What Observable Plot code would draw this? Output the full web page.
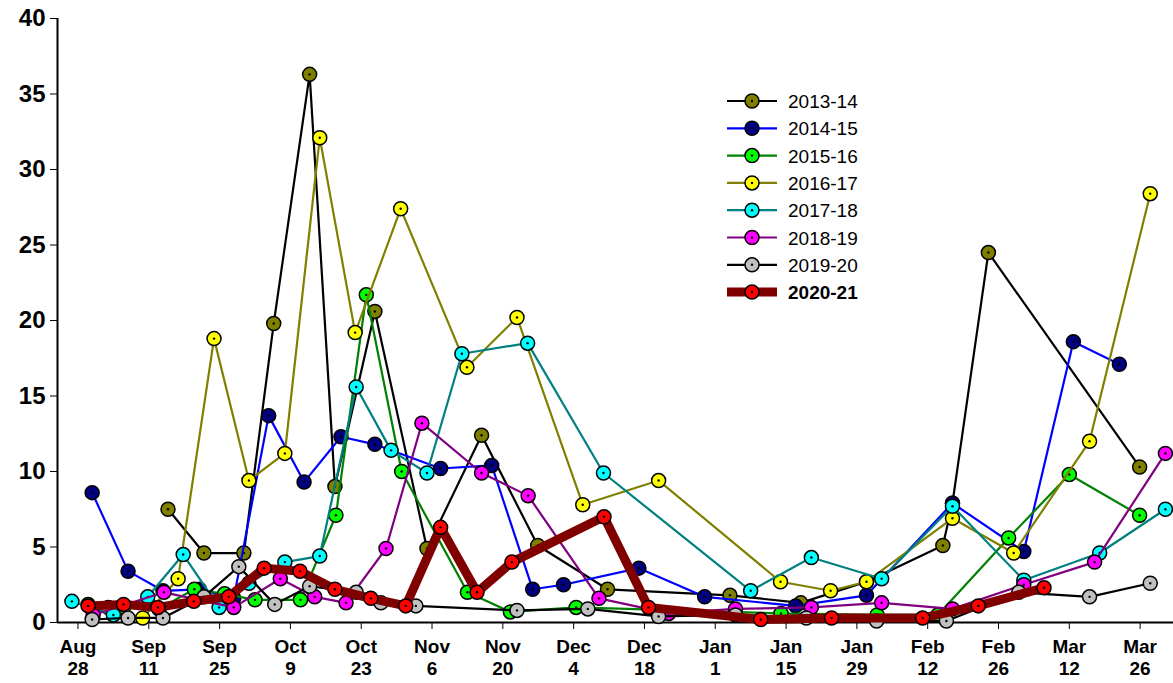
<!DOCTYPE html>
<html>
<head>
<meta charset="utf-8">
<script src="https://cdn.jsdelivr.net/npm/d3@7"></script>
<script src="https://cdn.jsdelivr.net/npm/@observablehq/plot@0.6"></script>
<style>
  body { margin: 0; background: #fff; font-family: Arial, "Liberation Sans", sans-serif; }
  #chart { position: relative; width: 1173px; height: 683px; }
  #legend { position: absolute; left: 727px; top: 88px; }
</style>
</head>
<body>
<div id="chart"><svg id="legend" width="200" height="220"></svg></div>
<script>
// x = days after Aug 28, y = value
const seasons = ["2013-14", "2014-15", "2015-16", "2016-17", "2017-18", "2018-19", "2019-20", "2020-21"];
const fills = ["#808000", "#000080", "#00ff00", "#ffff00", "#00ffff", "#ff00ff", "#c0c0c0", "#ff0000"];
const lines = ["#000000", "#0000ff", "#008000", "#808000", "#008080", "#800080", "#000000", "#800000"];

const days13 = [17.8, 24.9, 32.8, 38.7, 45.8, 50.8, 58.7, 69, 79.8, 90.9, 104.7, 128.9, 142.9, 155.9, 171, 172.9, 180, 209.9];
const vals13 = [7.5, 4.6, 4.6, 19.8, 36.3, 9.0, 20.6, 4.9, 12.4, 5.1, 2.2, 1.8, 1.3, 2.7, 5.1, 7.9, 24.5, 10.3];
const days14 = [2.8, 9.9, 16.8, 24, 30.8, 37.7, 44.7, 52, 58.7, 71.7, 81.8, 89.9, 96, 110.9, 123.9, 141.9, 155.9, 172.9, 187, 196.8, 205.9];
const vals14 = [8.6, 3.4, 2.1, 2.2, 1.6, 13.7, 9.3, 12.3, 11.8, 10.2, 10.4, 2.2, 2.5, 3.6, 1.7, 1.1, 1.8, 7.9, 4.7, 18.6, 17.1];
const days15 = [2, 9, 16, 23, 29, 35, 44, 51, 57, 64, 77, 85.5, 98.5, 139, 158, 170, 184, 196, 209.9];
const vals15 = [1.2, 1.0, 0.9, 2.2, 1.9, 1.5, 1.5, 7.1, 21.7, 10.0, 2.0, 0.7, 1.0, 0.6, 0.5, 0.5, 5.6, 9.8, 7.1];
const days16 = [6, 12.8, 19.8, 26.9, 33.8, 40.9, 47.8, 54.8, 63.8, 76.9, 86.8, 99.8, 114.8, 138.9, 148.8, 155.9, 172.9, 185, 200, 212];
const vals16 = [1.0, 0.3, 2.9, 18.8, 9.4, 11.2, 32.1, 19.2, 27.4, 16.9, 20.2, 7.8, 9.4, 2.7, 2.1, 2.7, 6.9, 4.6, 12.0, 28.4];
const days17 = [-1.2, 7, 13.8, 20.8, 27.9, 33.8, 40.9, 47.8, 55, 61.9, 69, 75.9, 88.9, 103.9, 133, 145, 158.9, 172.9, 187, 202, 215];
const vals17 = [1.4, 0.5, 1.7, 4.5, 1.0, 2.6, 4.0, 4.4, 15.6, 11.4, 9.9, 17.8, 18.5, 9.9, 2.1, 4.3, 2.9, 7.7, 2.8, 4.6, 7.5];
const days18 = [3, 17, 30.8, 40, 46.8, 53, 60.9, 68, 79.8, 89, 103, 116.8, 130, 145, 158.9, 172.9, 187, 201, 215];
const vals18 = [0.5, 2.0, 1.0, 2.9, 1.7, 1.3, 4.9, 13.2, 9.9, 8.4, 1.6, 0.6, 0.9, 1.0, 1.3, 0.9, 2.5, 4.0, 11.2];
const days19 = [2.8, 9.9, 16.8, 24.9, 31.8, 38.9, 45.8, 55, 59.9, 66.8, 86.8, 100.8, 114.8, 130, 144, 157.9, 171.7, 186, 200, 212];
const vals19 = [0.2, 0.3, 0.3, 1.7, 3.7, 1.2, 2.4, 2.0, 1.3, 1.1, 0.8, 0.9, 0.4, 0.5, 0.3, 0.1, 0.1, 2.0, 1.7, 2.6];
const days20 = [2, 9, 15.8, 22.9, 29.8, 36.8, 43.9, 50.8, 57.9, 64.8, 71.7, 78.9, 85.8, 104, 112.8, 135, 149, 167, 178, 191];
const vals20 = [1.1, 1.2, 1.0, 1.4, 1.7, 3.6, 3.4, 2.2, 1.6, 1.1, 6.3, 2.0, 4.0, 7.0, 1.0, 0.2, 0.3, 0.3, 1.1, 2.3];

const tickDays = [0, 14, 28, 42, 56, 70, 84, 98, 112, 126, 140, 154, 168, 182, 196, 210];
const tickLabels = ["Aug\n28", "Sep\n11", "Sep\n25", "Oct\n9", "Oct\n23", "Nov\n6", "Nov\n20", "Dec\n4", "Dec\n18", "Jan\n1", "Jan\n15", "Jan\n29", "Feb\n12", "Feb\n26", "Mar\n12", "Mar\n26"];

const allDays = [days13, days14, days15, days16, days17, days18, days19, days20];
const allVals = [vals13, vals14, vals15, vals16, vals17, vals18, vals19, vals20];

const marks = [];
seasons.forEach((s, i) => {
  const data = allDays[i].map((d, j) => ({ day: d, value: allVals[i][j] }));
  const last = i === seasons.length - 1;
  marks.push(Plot.line(data, { x: "day", y: "value", stroke: lines[i], strokeWidth: last ? 9 : 2.2, strokeLinejoin: "miter" }));
  marks.push(Plot.dot(data, { x: "day", y: "value", r: 7, fill: fills[i], stroke: "#000", strokeWidth: 1.5 }));
  marks.push(Plot.dot(data, { x: "day", y: "value", r: 1.2, fill: "#000" }));
});

const chart = Plot.plot({
  width: 1173,
  height: 683,
  marginLeft: 57,
  marginTop: 18,
  marginBottom: 61,
  marginRight: 0,
  style: { fontFamily: "Arial, 'Liberation Sans', sans-serif", background: "#fff" },
  x: { domain: [-4.05, 216.6] },
  y: { domain: [0, 40] },
  marks: [
    Plot.axisY({ ticks: d3.range(0, 41, 5), tickSize: 7, tickPadding: 5, fontSize: 24, fontWeight: "bold", label: null }),
    Plot.axisX({ ticks: tickDays, tickFormat: (d, i) => tickLabels[i], tickSize: 7, tickPadding: 8, fontSize: 19, fontWeight: "bold", label: null, lineHeight: 1.15 }),
    Plot.ruleX([-4.05], { stroke: "#000", strokeWidth: 2 }),
    Plot.ruleY([0], { stroke: "#000", strokeWidth: 2 }),
    ...marks
  ]
});
document.getElementById("chart").prepend(chart);
d3.select(chart).style("position", "absolute").style("left", "0").style("top", "0");

// legend
const lg = d3.select("#legend");
seasons.forEach((s, i) => {
  const y = 13 + i * 27.3;
  const last = i === seasons.length - 1;
  lg.append("line").attr("x1", 0).attr("x2", 50).attr("y1", y).attr("y2", y)
    .attr("stroke", lines[i]).attr("stroke-width", last ? 9 : 2.2);
  lg.append("circle").attr("cx", 25).attr("cy", y).attr("r", 7)
    .attr("fill", fills[i]).attr("stroke", "#000").attr("stroke-width", 1.5);
  lg.append("circle").attr("cx", 25).attr("cy", y).attr("r", 1.2).attr("fill", "#000");
  lg.append("text").attr("x", 61).attr("y", y + 7).text(s)
    .attr("font-size", 19).attr("font-weight", last ? "bold" : "normal");
});
</script>
</body>
</html>
